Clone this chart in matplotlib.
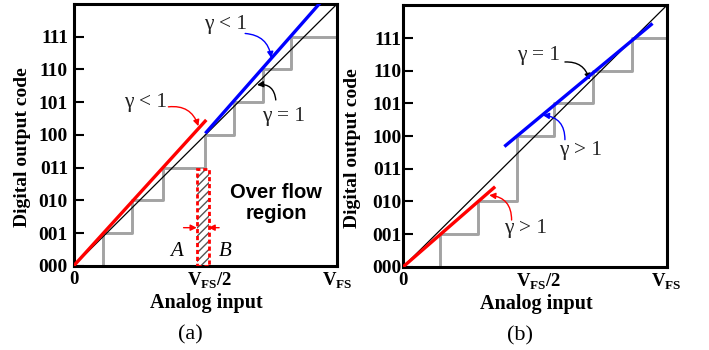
import numpy as np
import matplotlib
matplotlib.use("Agg")
import matplotlib.pyplot as plt
from matplotlib.patches import Rectangle

plt.rcParams['font.family'] = 'serif'
plt.rcParams['font.serif'] = ['Liberation Serif', 'DejaVu Serif']
plt.rcParams['mathtext.fontset'] = 'custom'
plt.rcParams['mathtext.rm'] = 'Liberation Serif'
plt.rcParams['mathtext.bf'] = 'Liberation Serif:bold'

# --- data (x: 0..8 = 0..V_FS, y: code levels) ---
codes = ['000', '001', '010', '011', '100', '101', '110', '111']
xtick_pos = [0, 4.12, 8]
xtick_lab = ['0', r'$\mathbf{V}_{\mathbf{FS}}\mathbf{/2}$', r'$\mathbf{V}_{\mathbf{FS}}$']

# panel (a): gamma < 1
a_step_x = [0.89, 1.79, 2.72, 4.0, 4.88, 5.75, 6.6]
a_step_y = [1, 2, 3, 4, 5, 6, 7]
a_red = ([0, 4.03], [0, 4.46])
a_blue = ([4.0, 7.5], [4.05, 8.05])
a_over = (3.74, 4.10, 2.95)   # x0, x1, top

# panel (b): gamma > 1
b_step_x = [1.12, 2.28, 3.45, 4.58, 5.77, 6.94]
b_step_y = [1, 2, 4, 5, 6, 7]
b_red = ([0, 2.79], [0, 2.45])
b_blue = ([3.07, 7.57], [3.68, 7.45])

GRAY = '#a3a3a3'
RED = '#ff0000'
BLUE = '#0000ff'


def stair(xs, ys, xmax=8):
    px, py = [0], [0]
    level = 0
    for x, y in zip(xs, ys):
        px += [x, x]
        py += [level, y]
        level = y
    px.append(xmax)
    py.append(level)
    return px, py


def setup(ax, tag, ypad):
    ax.set_xlim(0, 8)
    ax.set_ylim(0, 8)
    for s in ax.spines.values():
        s.set_linewidth(2.2)
    ax.set_yticks(range(8))
    ax.set_yticklabels(codes, fontsize=14, fontweight='bold')
    ax.tick_params(axis='y', direction='in', length=7, width=1.5, pad=ypad)
    ax.set_xticks(xtick_pos)
    ax.set_xticklabels(xtick_lab, fontsize=13.5, fontweight='bold')
    ax.tick_params(axis='x', length=0, pad=3.5)
    ax.plot([0, 8], [0, 8], color='k', lw=0.9, zorder=3)
    ax.text(0.506, -0.143, 'Analog input', transform=ax.transAxes, ha='center',
            va='center', fontsize=14.5, fontweight='bold')
    ax.text(-0.194, 0.455, 'Digital output code', transform=ax.transAxes,
            ha='center', va='center', rotation=90, fontsize=14, fontweight='bold')
    ax.text(0.443, -0.263, tag, transform=ax.transAxes, ha='center',
            va='center', fontsize=16)


def curved(ax, text_xy, text, start, tip, color, rad):
    ax.text(*text_xy, text, ha='center', va='center', fontsize=15.5, color='#222222')
    ax.annotate('', xy=tip, xytext=start,
                arrowprops=dict(arrowstyle='-|>', color=color, lw=1.0,
                                mutation_scale=9,
                                connectionstyle=f'arc3,rad={rad}',
                                shrinkA=0, shrinkB=0))


fig = plt.figure(figsize=(7.09, 3.5), dpi=100)
axa = fig.add_axes([0.1037, 0.24, 0.3717, 0.7486])
axb = fig.add_axes([0.5688, 0.238, 0.3715, 0.7463])

# ---- panel (a)
setup(axa, '(a)', 4)
sx, sy = stair(a_step_x, a_step_y)
axa.plot(sx, sy, color=GRAY, lw=2.1, zorder=2)
axa.plot(*a_red, color=RED, lw=2.4, zorder=4, solid_capstyle='butt')
axa.plot(*a_blue, color=BLUE, lw=2.4, zorder=4, solid_capstyle='butt')

x0, x1, top = a_over
axa.add_patch(Rectangle((x0, 0), x1 - x0, top, facecolor='white',
                        edgecolor='#555555', hatch='////', lw=0, zorder=2))
axa.add_patch(Rectangle((x0, 0), x1 - x0, top, facecolor='none',
                        edgecolor=RED, lw=2, linestyle=(0, (1.5, 1)), zorder=3))
axa.annotate('', xy=(x0, 1.17), xytext=(3.34, 1.17),
             arrowprops=dict(arrowstyle='-|>', color=RED, lw=1.0,
                             mutation_scale=9, shrinkA=0, shrinkB=0))
axa.annotate('', xy=(x1, 1.17), xytext=(4.42, 1.17),
             arrowprops=dict(arrowstyle='-|>', color=RED, lw=1.0,
                             mutation_scale=9, shrinkA=0, shrinkB=0))
axa.text(3.14, 0.44, 'A', style='italic', fontsize=15, ha='center', va='center')
axa.text(4.6, 0.44, 'B', style='italic', fontsize=15, ha='center', va='center')
axa.text(6.15, 1.92, 'Over flow\nregion', family='Liberation Sans',
         fontweight='bold', fontsize=14.5, ha='center', va='center',
         linespacing=1.1)

curved(axa, (2.2, 5.0), 'γ < 1', (2.88, 4.86), (3.79, 4.27), RED, -0.4)
curved(axa, (4.6, 7.36), 'γ < 1', (5.21, 7.1), (6.0, 6.35), BLUE, -0.4)
curved(axa, (6.37, 4.55), 'γ = 1', (6.14, 5.07), (5.57, 5.53), 'k', 0.5)

# ---- panel (b)
setup(axb, '(b)', 1.5)
sx, sy = stair(b_step_x, b_step_y)
axb.plot(sx, sy, color=GRAY, lw=2.1, zorder=2)
axb.plot(*b_red, color=RED, lw=2.4, zorder=4, solid_capstyle='butt')
axb.plot(*b_blue, color=BLUE, lw=2.4, zorder=4, solid_capstyle='butt')

curved(axb, (4.1, 6.48), 'γ = 1', (4.91, 6.27), (5.65, 5.72), 'k', -0.4)
curved(axb, (5.37, 3.57), 'γ > 1', (4.91, 3.89), (4.24, 4.64), BLUE, 0.45)
curved(axb, (3.7, 1.18), 'γ > 1', (3.29, 1.43), (2.61, 2.19), RED, 0.45)

fig.savefig('out.png', dpi=100)
